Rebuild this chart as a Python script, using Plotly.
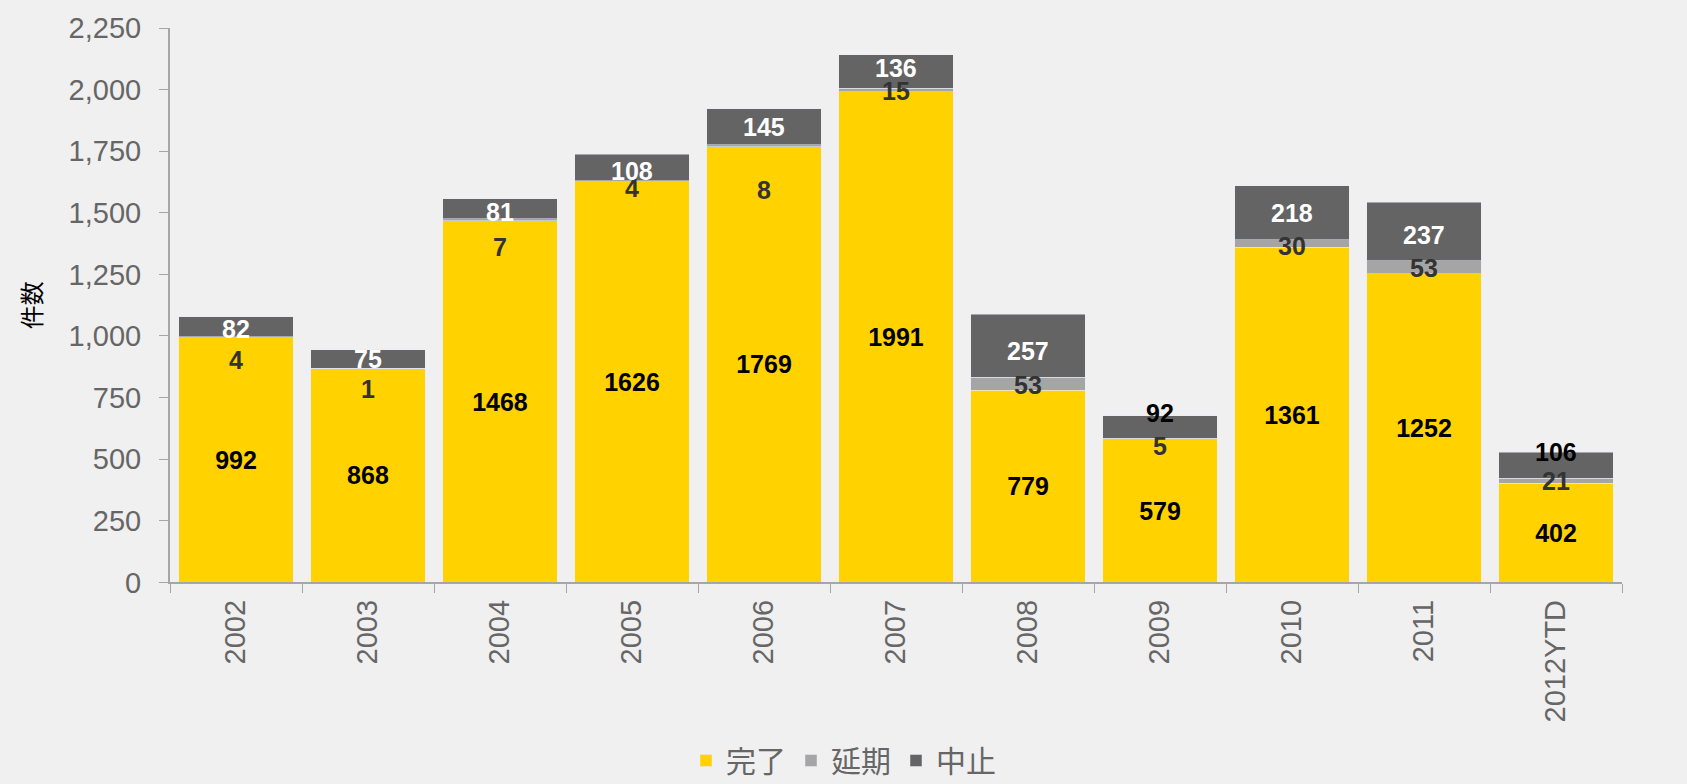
import plotly.graph_objects as go

years = ["2002", "2003", "2004", "2005", "2006", "2007", "2008", "2009", "2010", "2011", "2012YTD"]
completed = [992, 868, 1468, 1626, 1769, 1991, 779, 579, 1361, 1252, 402]
postponed = [4, 1, 7, 4, 8, 15, 53, 5, 30, 53, 21]
cancelled = [82, 75, 81, 108, 145, 136, 257, 92, 218, 237, 106]

# label placement tweaks (pixels), as in the original slide
postponed_shift = [-23, -21, -28, -7, -45, -3, -8, -8, -6, -7, -3]
cancelled_shift = [-2, 0, -3, -4, 0, 3, -5, 14, 0, -3, 13]
cancelled_color = ["white"] * len(years)
cancelled_color[7] = "black"
cancelled_color[10] = "black"

YELLOW = "#FFD200"
LIGHT = "#A5A5A5"
DARK = "#646464"
BG = "#F0F0F0"
NUM_FONT = "Arial, Liberation Sans, sans-serif"
CJK_FONT = "Noto Sans CJK JP, sans-serif"

fig = go.Figure()
fig.add_bar(
    x=years, y=completed, name="完了", marker_color=YELLOW,
    text=completed, textposition="inside", insidetextanchor="middle",
    textangle=0, constraintext="none",
    textfont=dict(family=NUM_FONT, size=25, color="black", weight="bold"),
)
fig.add_bar(x=years, y=postponed, name="延期", marker_color=LIGHT)
fig.add_bar(x=years, y=cancelled, name="中止", marker_color=DARK)

for i in range(len(years)):
    top2 = completed[i] + postponed[i]
    fig.add_annotation(
        x=i, y=top2, text=str(postponed[i]), showarrow=False,
        yanchor="middle", yshift=postponed_shift[i],
        font=dict(family=NUM_FONT, size=25, color="#333333", weight="bold"),
    )
    fig.add_annotation(
        x=i, y=top2 + cancelled[i] / 2, text=str(cancelled[i]), showarrow=False,
        yanchor="middle", yshift=cancelled_shift[i],
        font=dict(family=NUM_FONT, size=25, color=cancelled_color[i], weight="bold"),
    )

fig.update_layout(
    barmode="stack",
    bargap=0.136,
    width=1687, height=784,
    margin=dict(l=170, r=65, t=24, b=200),
    paper_bgcolor=BG, plot_bgcolor=BG,
    font=dict(family=NUM_FONT, color="#666666"),
    legend=dict(
        orientation="h", xref="container", yref="container",
        x=0.5, y=0.03, xanchor="center", yanchor="middle",
        font=dict(family=CJK_FONT, size=30, color="#666666"),
        traceorder="normal",
    ),
)
fig.update_xaxes(
    type="category", range=[-0.5, len(years) - 0.5], tickangle=-90,
    ticks="outside", tickson="boundaries", ticklabelstandoff=4,
    ticklen=9, tickcolor="#A6A6A6", showline=True, linecolor="#A6A6A6",
    linewidth=2, tickfont=dict(size=29, color="#666666"), showgrid=False,
)
fig.update_yaxes(
    range=[0, 2250], dtick=250, tickformat=",", ticks="outside", ticklen=9,
    ticklabelstandoff=12,
    tickcolor="#A6A6A6", showline=True, linecolor="#A6A6A6", linewidth=2,
    showgrid=False, zeroline=False, tickfont=dict(size=29, color="#666666"),
    title=dict(text="件数", font=dict(family=CJK_FONT, size=24, color="black"), standoff=20),
)

fig.write_html(
    "out.html",
    config={"displayModeBar": False},
    post_script="document.body.style.margin='0';document.body.style.background='#F0F0F0';",
)
